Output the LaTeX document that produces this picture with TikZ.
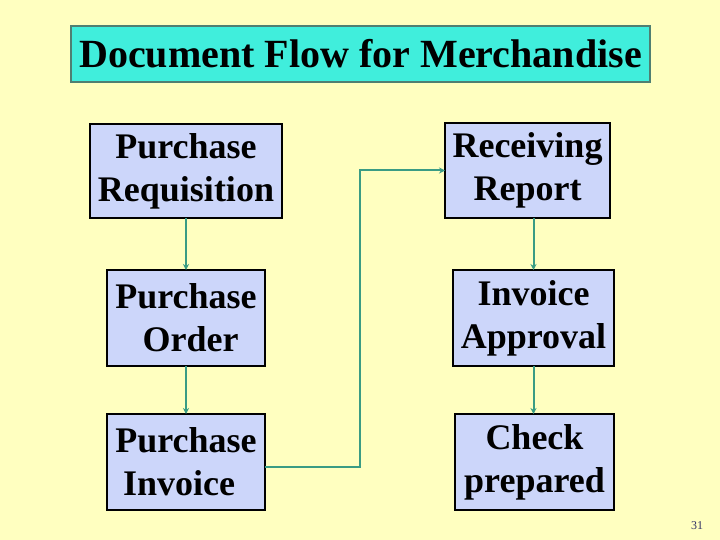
\documentclass[tikz,border=0pt]{standalone}
\usepackage{fontspec}
\setmainfont{Liberation Serif}
\usetikzlibrary{arrows.meta}
\definecolor{bgyellow}{HTML}{FFFFC0}
\definecolor{boxblue}{HTML}{CCD6FA}
\definecolor{titlecyan}{HTML}{40EEDC}
\definecolor{titleedge}{HTML}{4F7F72}
\definecolor{connteal}{HTML}{3A9C84}
\definecolor{pagenum}{HTML}{333366}
\tikzset{
  docbox/.style={draw=black, line width=2pt, fill=boxblue, inner sep=0pt, outer sep=0pt,
    align=center, font=\fontsize{36}{43}\selectfont\bfseries},
  titlebox/.style={draw=titleedge, line width=2.2pt, fill=titlecyan, inner sep=0pt, outer sep=0pt,
    minimum width=579pt, minimum height=56pt, font=\fontsize{40}{48}\selectfont\bfseries},
  conn/.style={draw=connteal, line width=2pt, -{Stealth[length=6pt,width=6pt]}},
}
\begin{document}
\begin{tikzpicture}[x=1pt,y=-1pt]
\fill[bgyellow] (0,0) rectangle (720,540);
\useasboundingbox (0,0) rectangle (720,540);
\node[titlebox] (title) at (360.5,54) {Document Flow for Merchandise};
\node[docbox, minimum width=192pt, minimum height=94pt] (PR) at (186,171) {Purchase\\Requisition};
\node[docbox, minimum width=158pt, minimum height=96pt] (PO) at (186,318) {Purchase\\\ Order};
\node[docbox, minimum width=158pt, minimum height=96pt] (PI) at (186,462) {Purchase\\Invoice\hspace*{14pt}};
\node[docbox, minimum width=165pt, minimum height=95pt] (RR) at (527.5,170.5) {Receiving\\Report};
\node[docbox, minimum width=161pt, minimum height=96pt] (IA) at (533.5,318) {Invoice\\Approval};
\node[docbox, minimum width=159pt, minimum height=96pt] (CP) at (534.5,462) {Check\\prepared};
\draw[conn] (PR) -- (PO);
\draw[conn] (PO) -- (PI);
\draw[conn] (RR.south -| IA) -- (IA);
\draw[conn] (IA) -- (IA |- CP.north);
\coordinate (bend) at (360,467);
\draw[conn] (PI.east |- bend) -- (bend) |- (RR.west);
\node[font=\fontsize{12}{14}\selectfont, text=pagenum] (num) at (697,526) {31};
\end{tikzpicture}
\end{document}
